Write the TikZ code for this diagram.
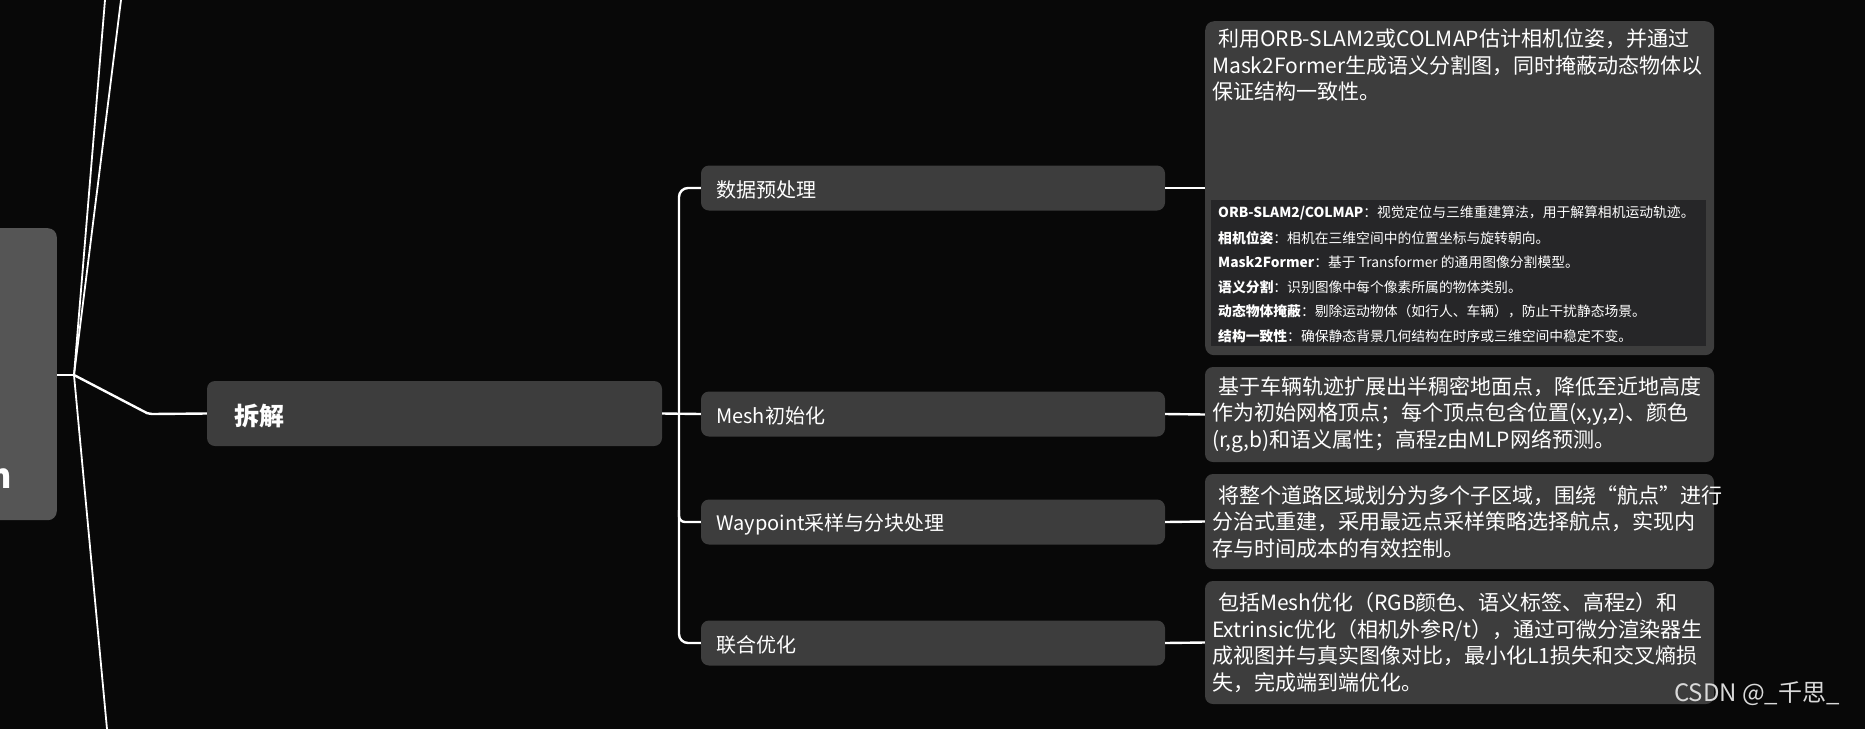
\documentclass[tikz,border=0pt]{standalone}
\usepackage{fontspec}
\setmainfont{Noto Sans CJK SC}
\usetikzlibrary{positioning}
\definecolor{bg}{HTML}{080808}
\definecolor{boxc}{HTML}{3D3D3D}
\definecolor{rootc}{HTML}{555555}
\definecolor{panelc}{HTML}{262628}
\begin{document}
\begin{tikzpicture}[x=1pt,y=-1pt,
  conn/.style={draw=white,line width=2.4pt},
  child/.style={fill=boxc,rounded corners=8pt,minimum width=464pt,minimum height=45pt,text=white,font=\fontsize{19}{23}\selectfont,inner sep=0pt},
  detail/.style={fill=boxc,rounded corners=8pt,minimum width=509pt,text=white,text width=495pt,align=left,inner xsep=7pt,inner ysep=0pt,font=\fontsize{21}{26.5}\selectfont},
  lbl/.style={text=white,font=\fontsize{20}{24}\selectfont,anchor=west,inner sep=0pt},
  pl/.style={text=white,font=\fontsize{13.8}{16}\selectfont,anchor=west,inner sep=0pt}]
\useasboundingbox (0,0) rectangle (1865,729);
\fill[bg] (0,0) rectangle (1865,729);
% root
\node[fill=rootc,rounded corners=9pt,minimum width=80pt,minimum height=292pt,anchor=north east,inner sep=0pt] (root) at (57,228) {};
\node[text=white,font=\fontsize{34}{38}\bfseries\selectfont,anchor=base east,inner sep=0pt] (rootn) at (12,488) {n};
\coordinate (hub) at (74,375);
\coordinate (t1) at (105,0);
\coordinate (t2) at (121,0);
\coordinate (b1) at (107,729);
\draw[conn] (root.east |- hub) -- (hub);
\draw[conn,line width=1.8pt] (hub) -- (t1);
\draw[conn,line width=1.8pt] (hub) -- (t2);
\draw[conn,line width=1.8pt] (hub) -- (b1);
% 拆解
\node[fill=boxc,rounded corners=8pt,minimum width=455pt,minimum height=65pt,inner sep=0pt] (cj) at (434.5,413.5) {};
\node[text=white,font=\fontsize{25}{30}\bfseries\selectfont,anchor=west,inner sep=0pt] (cjt) at (234,416) {拆解};
\draw[conn] (hub) -- (143,411) to[out=-30,in=180] (152,414) -- (cj.west);
% children
\node[child] (c1) at (933,188) {};
\node[child] (c2) at (933,414) {};
\node[child] (c3) at (933,522) {};
\node[child] (c4) at (933,643) {};
\node[lbl] at (716,190) {数据预处理};
\node[lbl] at (716,416) {Mesh初始化};
\node[lbl] at (716,524) {Waypoint采样与分块处理};
\node[lbl] at (716,645) {联合优化};
\coordinate (bx) at (679,414);
\draw[conn,rounded corners=9pt] (c1.west) -- (bx |- c1.west) -- (bx |- c4.west) -- (c4.west);
\draw[conn] (cj.east) -- (c2.west);
\draw[conn,rounded corners=6pt] (bx |- 0,510) -- (bx |- c3.west) -- (c3.west);
% details
\node[fill=boxc,rounded corners=9pt,minimum width=509pt,minimum height=334pt,inner sep=0pt,anchor=north west] (d1) at (1205,21) {};
\node[text=white,text width=495pt,align=left,inner sep=0pt,anchor=north west,font=\fontsize{21}{26.5}\selectfont] (d1t) at (1212,29) {\hspace{6pt}利用ORB-SLAM2或COLMAP估计相机位姿，并通过\\Mask2Former生成语义分割图，同时掩蔽动态物体以\\保证结构一致性。};
\node[fill=panelc,minimum width=495pt,minimum height=146pt,inner sep=0pt,anchor=north west] (pan) at (1211,200) {};
\node[pl] at (1218,213) {\textbf{ORB-SLAM2/COLMAP}：视觉定位与三维重建算法，用于解算相机运动轨迹。};
\node[pl] at (1218,238) {\textbf{相机位姿}：相机在三维空间中的位置坐标与旋转朝向。};
\node[pl] at (1218,262) {\textbf{Mask2Former}：基于 Transformer 的通用图像分割模型。};
\node[pl] at (1218,287) {\textbf{语义分割}：识别图像中每个像素所属的物体类别。};
\node[pl] at (1218,311) {\textbf{动态物体掩蔽}：剔除运动物体（如行人、车辆），防止干扰静态场景。};
\node[pl] at (1218,336) {\textbf{结构一致性}：确保静态背景几何结构在时序或三维空间中稳定不变。};
\node[detail,minimum height=95pt] (d2) at (1459.5,414.5) {\hspace{6pt}基于车辆轨迹扩展出半稠密地面点，降低至近地高度\\作为初始网格顶点；每个顶点包含位置(x,y,z)、颜色\\(r,g,b)和语义属性；高程z由MLP网络预测。};
\node[detail,minimum height=95pt] (d3) at (1459.5,521.5) {\hspace{6pt}将整个道路区域划分为多个子区域，围绕“航点”进行\\分治式重建，采用最远点采样策略选择航点，实现内\\存与时间成本的有效控制。};
\node[detail,minimum height=123pt] (d4) at (1459.5,642.5) {\hspace{6pt}包括Mesh优化（RGB颜色、语义标签、高程z）和\\Extrinsic优化（相机外参R/t），通过可微分渲染器生\\成视图并与真实图像对比，最小化L1损失和交叉熵损\\失，完成端到端优化。};
\draw[conn] (c1.east) -- (d1.west |- c1.east);
\draw[conn] (c2.east) -- (d2.west);
\draw[conn] (c3.east) -- (d3.west);
\draw[conn] (c4.east) -- (d4.west);
\node[text=white!85!black,font=\fontsize{24}{28}\selectfont,anchor=east,inner sep=0pt] (wm) at (1840,694) {CSDN @\_千思\_};
\end{tikzpicture}
\end{document}
